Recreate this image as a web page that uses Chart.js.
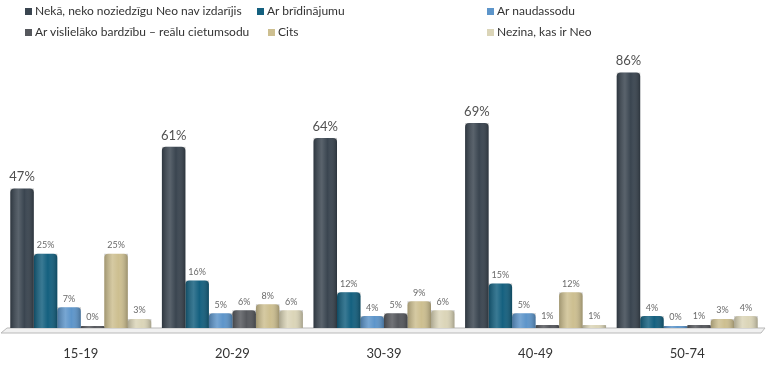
<!DOCTYPE html>
<html>
<head>
<meta charset="utf-8">
<script src="https://cdn.jsdelivr.net/npm/chart.js@4.4.1/dist/chart.umd.min.js"></script>
<style>
  body { margin: 0; background: #fff; }
  #wrap { position: relative; width: 768px; height: 370px; }
  #myChart { position: absolute; left: 0; top: 0; }
  .leg { position: absolute; font: 12px Lato, sans-serif; color: #333; white-space: nowrap; line-height: 14px; }
  .leg i { display: inline-block; width: 7px; height: 7px; margin-right: 3px; vertical-align: 0px; }
</style>
</head>
<body>
<div id="wrap">
  <canvas id="myChart" width="768" height="370"></canvas>
  <div id="legend"></div>
</div>
<script>
// age groups
var ageGroups = ["15-19", "20-29", "30-39", "40-49", "50-74"];

// answer categories
var answers = [
  "Nekā, neko noziedzīgu Neo nav izdarījis",
  "Ar brīdinājumu",
  "Ar naudassodu",
  "Ar vislielāko bardzību – reālu cietumsodu",
  "Cits",
  "Nezina, kas ir Neo"
];

// percentages per answer, one value per age group
var nothing    = [47, 61, 64, 69, 86];
var warning    = [25, 16, 12, 15, 4];
var fine       = [7, 5, 4, 5, 0];
var prison     = [0, 6, 5, 1, 1];
var other      = [25, 8, 9, 12, 3];
var dontKnow   = [3, 6, 6, 1, 4];

var seriesValues = [nothing, warning, fine, prison, other, dontKnow];
var colors = ['#3a4550', '#14607f', '#5d95ca', '#56585d', '#cdbf90', '#dbd5b8'];

// legend placement (left, top) for each item
var legendPos = [[25, 4], [257, 4], [487, 4], [25, 25], [268, 25], [487, 25]];

// html legend
var legendHTML = "";
for (var i = 0; i < answers.length; i++) {
  legendHTML += '<div class="leg" style="left:' + legendPos[i][0] + 'px;top:' + legendPos[i][1] + 'px">' +
    '<i style="background:' + colors[i] + '"></i>' + answers[i] + '</div>';
}
document.getElementById('legend').innerHTML = legendHTML;

var datasets = [];
for (var i = 0; i < seriesValues.length; i++) {
  datasets.push({
    label: answers[i],
    data: seriesValues[i],
    backgroundColor: colors[i],
    borderRadius: { topLeft: 4, topRight: 4 },
    borderSkipped: 'bottom',
    minBarLength: 2,
    categoryPercentage: 0.93,
    barPercentage: 1.0
  });
}

// grey floor under the bars
var floorPlugin = {
  id: 'floor',
  beforeDatasetsDraw: function(chart) {
    var c = chart.ctx, a = chart.chartArea;
    c.save();
    c.beginPath();
    c.moveTo(a.left + 2, a.bottom);
    c.lineTo(a.right + 2, a.bottom);
    c.lineTo(a.right - 2, a.bottom + 5);
    c.lineTo(a.left - 4, a.bottom + 5);
    c.closePath();
    c.fillStyle = '#f1f1f1';
    c.fill();
    c.strokeStyle = '#b9b9b9';
    c.lineWidth = 1;
    c.stroke();
    c.restore();
  }
};

// cylinder shading and value labels
var labelPlugin = {
  id: 'valueLabels',
  afterDatasetsDraw: function(chart) {
    var c = chart.ctx;
    c.save();
    chart.data.datasets.forEach(function(ds, di) {
      chart.getDatasetMeta(di).data.forEach(function(bar, j) {
        var left = bar.x - bar.width / 2;
        var g = c.createLinearGradient(left, 0, left + bar.width, 0);
        g.addColorStop(0, 'rgba(0,0,0,0.22)');
        g.addColorStop(0.35, 'rgba(255,255,255,0.16)');
        g.addColorStop(0.6, 'rgba(255,255,255,0)');
        g.addColorStop(1, 'rgba(0,0,0,0.25)');
        c.fillStyle = g;
        c.fillRect(left, bar.y, bar.width, bar.base - bar.y);

        c.textAlign = 'center';
        c.textBaseline = 'bottom';
        if (di === 0) {
          c.font = '13px Lato, sans-serif';
          c.fillStyle = '#505050';
          c.fillText(ds.data[j] + '%', bar.x, bar.y - 5);
        } else {
          c.font = '9px Lato, sans-serif';
          c.fillStyle = '#6a6a6a';
          c.fillText(ds.data[j] + '%', bar.x, bar.y - 4);
        }
      });
    });
    c.restore();
  }
};

var ctx = document.getElementById('myChart');

var myChart = new Chart(ctx, {
  type: 'bar',
  data: {
    labels: ageGroups,
    datasets: datasets
  },
  options: {
    responsive: false,
    animation: false,
    layout: {
      padding: { left: 5, right: 5, top: 31, bottom: 8 }
    },
    plugins: {
      legend: { display: false },
      tooltip: { enabled: false }
    },
    scales: {
      x: {
        grid: { display: false, drawTicks: false },
        border: { display: false },
        ticks: {
          padding: 18,
          color: '#333',
          font: { family: 'Lato', size: 13 }
        },
        afterFit: function(scale) {
          scale.height = 34;
        }
      },
      y: {
        display: false,
        min: 0,
        max: 100
      }
    }
  },
  plugins: [floorPlugin, labelPlugin]
});
</script>
</body>
</html>
